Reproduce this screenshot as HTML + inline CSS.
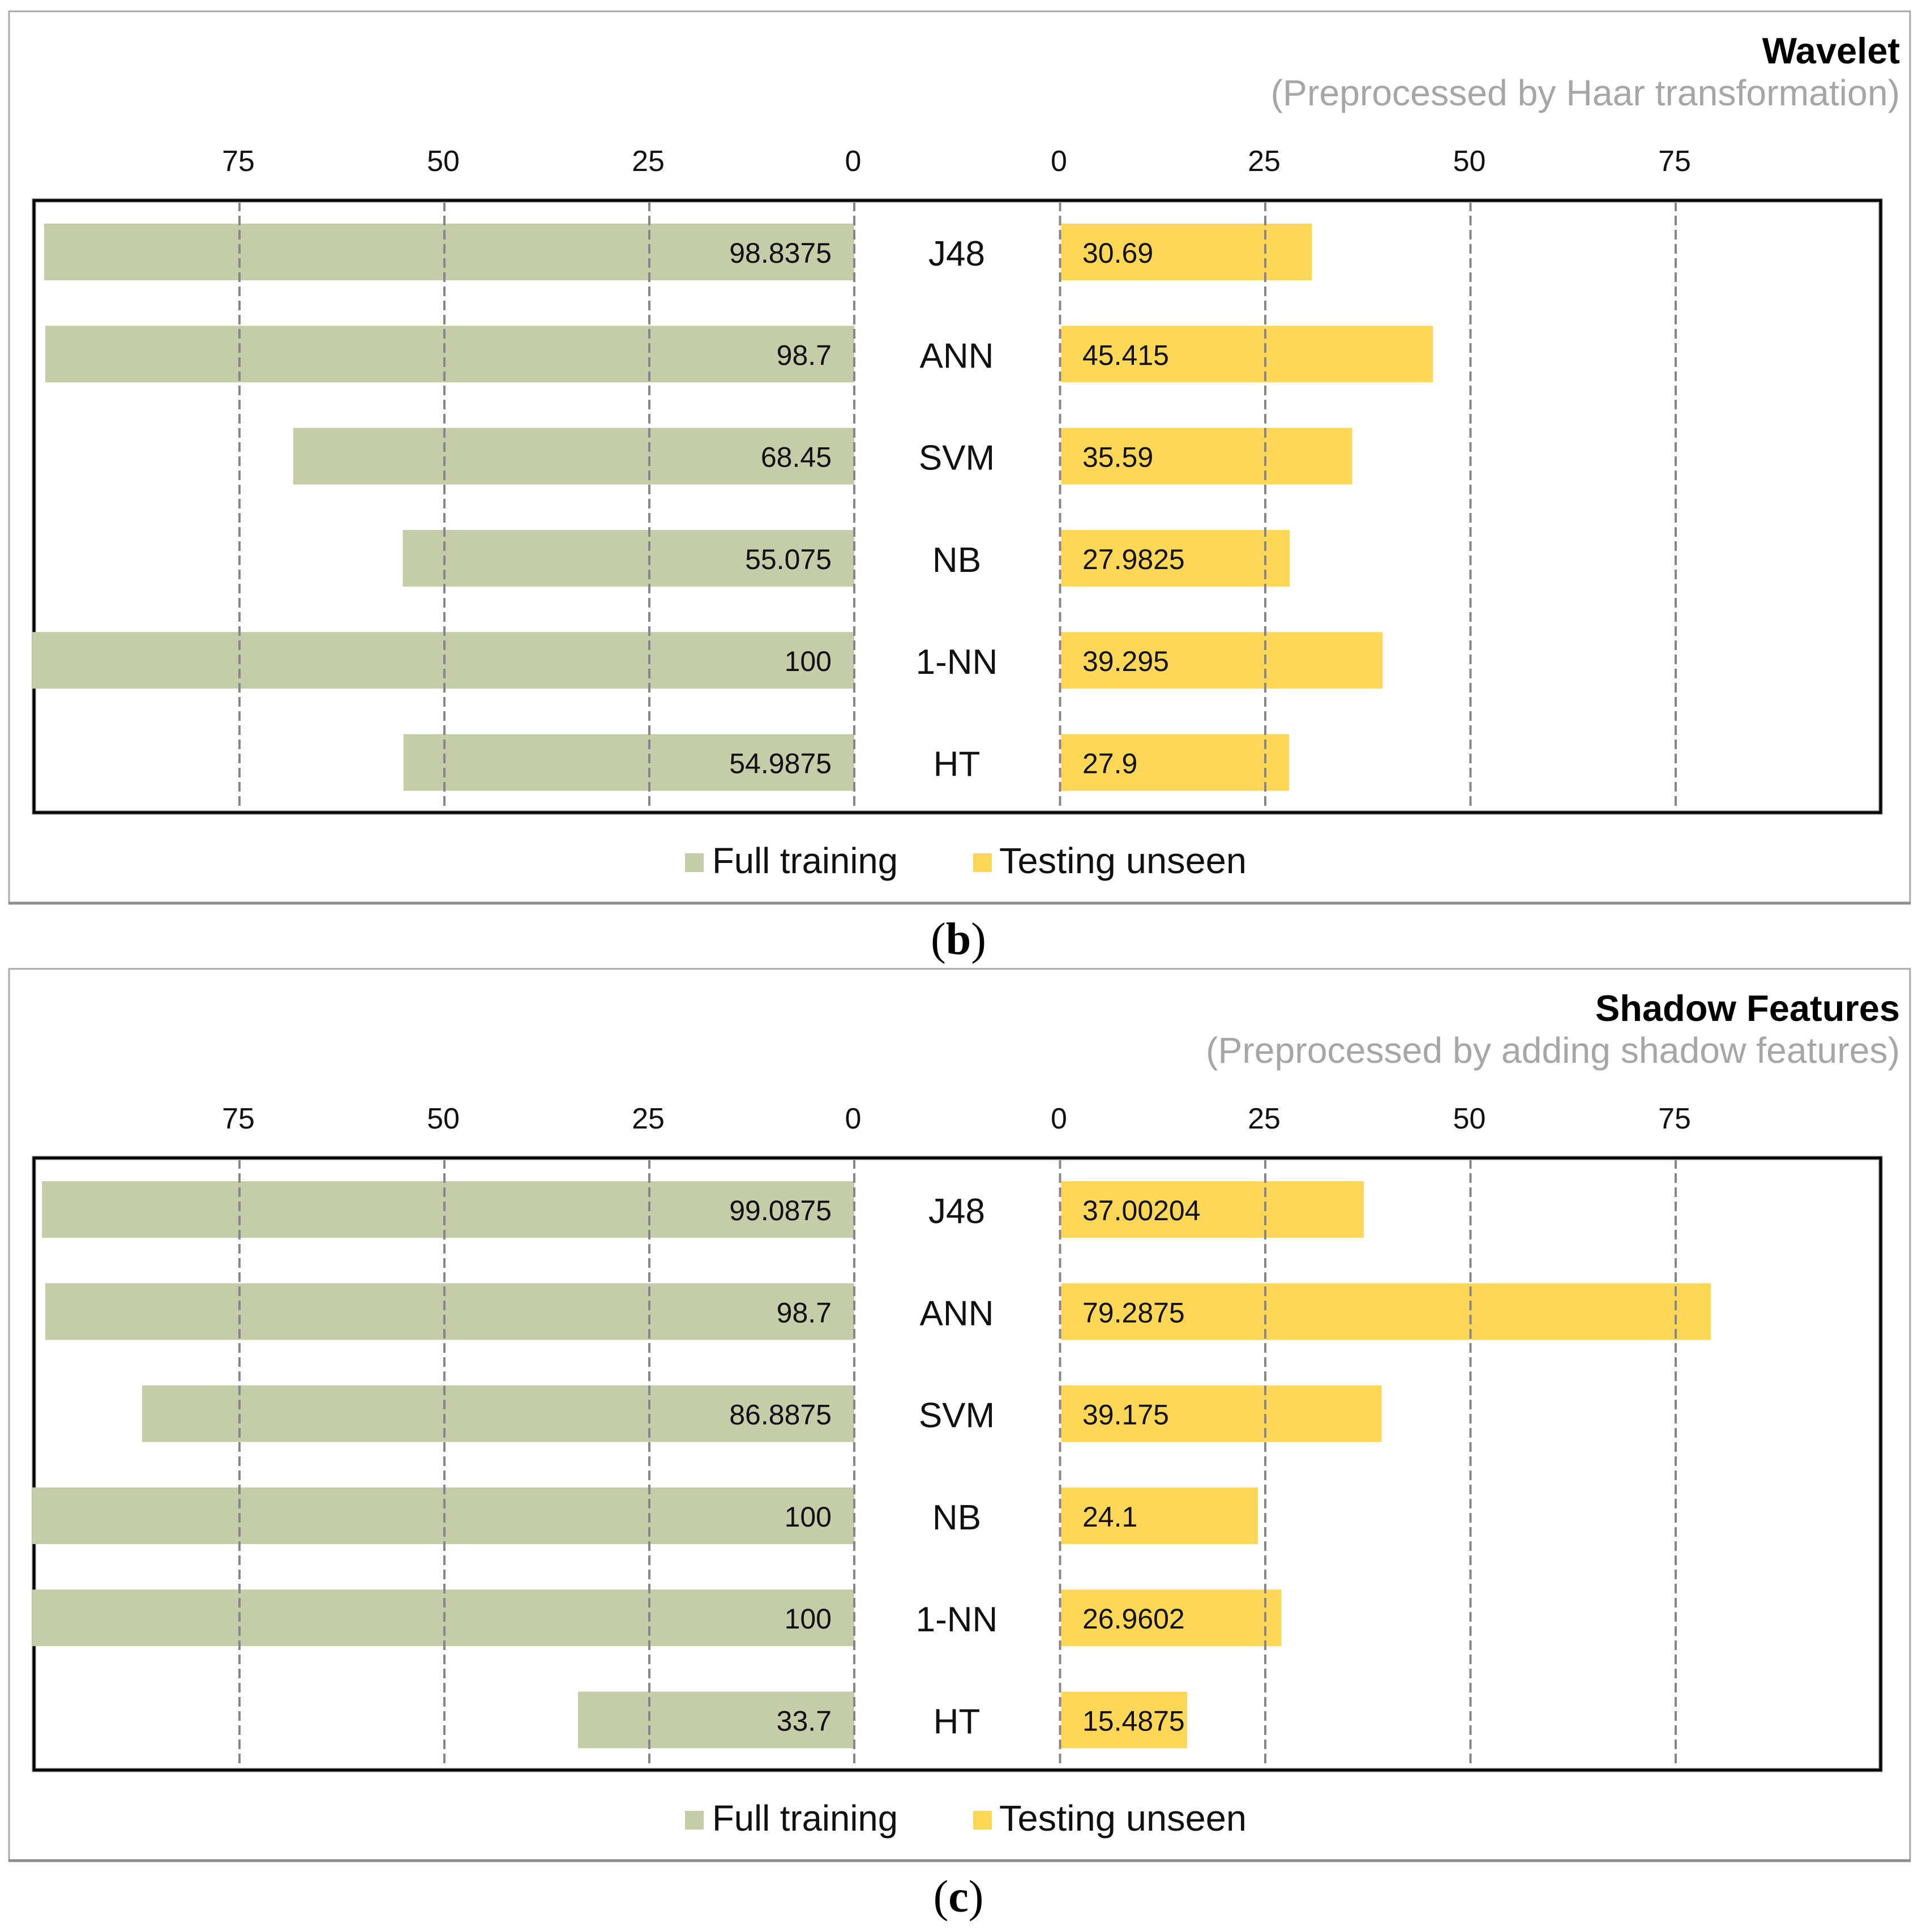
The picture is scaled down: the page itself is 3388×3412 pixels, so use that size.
<!DOCTYPE html>
<html lang="en">
<head>
<meta charset="utf-8">
<title>Classifier accuracy: Wavelet and Shadow Features</title>
<style>
html,body{margin:0;padding:0;background:#fff;}
svg{display:block;}
text{font-family:"Liberation Sans",Arial,sans-serif;fill:#111;}
.cap{font-family:"Liberation Serif","Times New Roman",serif;fill:#000;}
</style>
</head>
<body>
<svg id="chart" xmlns="http://www.w3.org/2000/svg" width="3388" height="3412" viewBox="0 0 3388 3412"></svg>
<script>
const categories = ['J48', 'ANN', 'SVM', 'NB', '1-NN', 'HT'];
const tickValues = [0, 25, 50, 75];
const seriesNames = ['Full training', 'Testing unseen'];
const waveletFull = [98.8375, 98.7, 68.45, 55.075, 100, 54.9875];
const waveletTest = [30.69, 45.415, 35.59, 27.9825, 39.295, 27.9];
const shadowFull = [99.0875, 98.7, 86.8875, 100, 100, 33.7];
const shadowTest = [37.00204, 79.2875, 39.175, 24.1, 26.9602, 15.4875];

const svg = document.getElementById('chart');
const NS = 'http://www.w3.org/2000/svg';
const GREEN = '#c5cca8';
const YELLOW = '#ffd757';

function make(tag, attrs, parent) {
  const el = document.createElementNS(NS, tag);
  for (const k in attrs) el.setAttribute(k, attrs[k]);
  parent.appendChild(el);
  return el;
}
function xLeft(v) { return 1509 - v * 14.48; }
function xRight(v) { return 1872.5 + v * 14.5; }
function yBand(i) { return 445 + i * 180.3; }

function drawPanel(dy, name, title, subtitle, full, test, caption) {
  const g = make('g', {transform: 'translate(0,' + dy + ')'}, svg);
  
  

  const frame = make('rect', {x: 16, y: 20, width: 3358, height: 1575, fill: '#fff', stroke: '#a8a8a8', 'stroke-width': 3}, g);
  
  
  const frameBottom = make('line', {x1: 15, x2: 3375, y1: 1595, y2: 1595, stroke: '#8e8e8e', 'stroke-width': 5}, g);
  
  

  const t = make('text', {x: 3356, y: 112, 'text-anchor': 'end', 'font-size': 65, 'font-weight': 'bold', style: 'fill:#000'}, g);
  t.textContent = title;
  
  
  const st = make('text', {x: 3356, y: 186, 'text-anchor': 'end', 'font-size': 64.3, style: 'fill:#a6a6a6'}, g);
  st.textContent = subtitle;
  
  

  // bars
  categories.forEach(function (cat, i) {
    const yc = yBand(i);
    const barL = make('rect', {x: xLeft(full[i]), y: yc - 50, width: xLeft(0) - xLeft(full[i]), height: 100, fill: GREEN}, g);
    
    
    const barR = make('rect', {x: xRight(0) + 2, y: yc - 50, width: xRight(test[i]) - xRight(0) - 2, height: 100, fill: YELLOW}, g);
    
    
  });

  // gridlines and tick labels
  [xLeft, xRight].forEach(function (scale, side) {
    tickValues.forEach(function (v) {
      const line = make('line', {x1: scale(v), x2: scale(v), y1: 356, y2: 1433, stroke: '#85858b', 'stroke-width': 4, 'stroke-dasharray': '17 8'}, g);
      
      
      const lab = make('text', {x: scale(v) - 2, y: 302, 'text-anchor': 'middle', 'font-size': 52}, g);
      lab.textContent = String(v);
      
      
    });
  });

  const plotHalo = make('rect', {x: 60, y: 354, width: 3262, height: 1081, fill: 'none', stroke: '#b4b4b4', 'stroke-width': 8}, g);
  
  
  const plot = make('rect', {x: 60, y: 354, width: 3262, height: 1081, fill: 'none', stroke: '#000', 'stroke-width': 5}, g);
  
  

  // the full bars reaching 100 sit over the frame edge
  categories.forEach(function (cat, i) {
    if (full[i] >= 100) {
      const cover = make('rect', {x: xLeft(full[i]) - 4, y: yBand(i) - 50, width: 9, height: 100, fill: GREEN}, g);
      
      
    }
  });

  // labels
  categories.forEach(function (cat, i) {
    const yc = yBand(i);
    const a = make('text', {x: 1469, y: yc + 19, 'text-anchor': 'end', 'font-size': 50}, g);
    a.textContent = String(full[i]);
    
    
    const b = make('text', {x: 1912, y: yc + 19, 'font-size': 50}, g);
    b.textContent = String(test[i]);
    
    
    const c = make('text', {x: 1690, y: yc + 24, 'text-anchor': 'middle', 'font-size': 62}, g);
    c.textContent = cat;
    
    
  });

  // legend
  const sw1 = make('rect', {x: 1210, y: 1507, width: 33, height: 33, fill: GREEN}, g);
  
  
  const lt1 = make('text', {x: 1258, y: 1542, 'font-size': 64, textLength: 328, lengthAdjust: 'spacingAndGlyphs'}, g);
  lt1.textContent = seriesNames[0];
  
  
  const sw2 = make('rect', {x: 1719, y: 1507, width: 33, height: 33, fill: YELLOW}, g);
  
  
  const lt2 = make('text', {x: 1765, y: 1542, 'font-size': 64, textLength: 437, lengthAdjust: 'spacingAndGlyphs'}, g);
  lt2.textContent = seriesNames[1];
  
  

  // caption
  const cp = make('text', {x: 1693, y: 1685, 'text-anchor': 'middle', 'font-size': 80, 'class': 'cap'}, g);
  
  
  const o = make('tspan', {}, cp); o.textContent = '(';
  const m = make('tspan', {'font-weight': 'bold'}, cp); m.textContent = caption;
  const e = make('tspan', {}, cp); e.textContent = ')';
}

drawPanel(0, 'wavelet', 'Wavelet', '(Preprocessed by Haar transformation)', waveletFull, waveletTest, 'b');
drawPanel(1691, 'shadow-features', 'Shadow Features', '(Preprocessed by adding shadow features)', shadowFull, shadowTest, 'c');
</script>
</body>
</html>
